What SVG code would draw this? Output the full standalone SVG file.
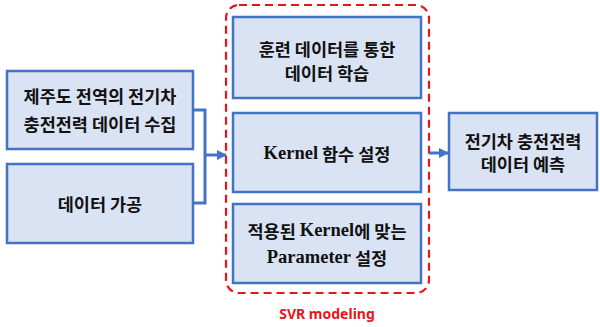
<svg xmlns="http://www.w3.org/2000/svg" width="600" height="327" viewBox="0 0 600 327">
  <style>
    .box { fill: #dae3f3; stroke: #4472c4; stroke-width: 2.5; }
    .lbl { font-family: "Noto Sans CJK KR", "Noto Sans", sans-serif; font-weight: bold; font-size: 17.5px; fill: #111; text-anchor: middle; dominant-baseline: central; }
    .lat { font-family: "Liberation Serif", "Noto Sans CJK KR", serif; font-size: 18.5px; }
    .wire { fill: none; stroke: #4472c4; stroke-width: 3; }
    .group { fill: none; stroke: #e8141c; stroke-width: 2.2; stroke-dasharray: 8 5; }
    .cap { font-family: "Noto Sans", "Liberation Sans", sans-serif; font-weight: bold; font-size: 14px; fill: #e8141c; text-anchor: middle; dominant-baseline: central; }
  </style>
  <defs>
    <marker id="arrow" viewBox="0 0 10 10" refX="9" refY="5" markerWidth="3.5" markerHeight="3.5" orient="auto" markerUnits="strokeWidth">
      <path d="M0,0 L10,5 L0,10 z" fill="#4472c4"/>
    </marker>
  </defs>

  <rect width="600" height="327" fill="#ffffff"/>

  <!-- SVR modeling boundary -->
  <g id="svr-group">
    <rect class="group" x="226" y="5" width="203" height="288" rx="13"/>
    <text class="cap" x="327" y="313">SVR modeling</text>
  </g>

  <g id="collect">
    <rect class="box" x="7" y="71" width="186" height="78"/>
    <text class="lbl" x="100" y="95">제주도 전역의 전기차</text>
    <text class="lbl" x="100" y="123">충전전력 데이터 수집</text>
  </g>

  <g id="process">
    <rect class="box" x="7" y="164" width="186" height="79"/>
    <text class="lbl" x="100" y="203">데이터 가공</text>
  </g>

  <g id="train">
    <rect class="box" x="233" y="17" width="188" height="81"/>
    <text class="lbl" x="327" y="48">훈련 데이터를 통한</text>
    <text class="lbl" x="327" y="72">데이터 학습</text>
  </g>

  <g id="kernel">
    <rect class="box" x="233" y="113" width="188" height="79"/>
    <text class="lbl" x="327" y="153"><tspan class="lat">Kernel</tspan> 함수 설정</text>
  </g>

  <g id="params">
    <rect class="box" x="233" y="204" width="188" height="79"/>
    <text class="lbl" x="327" y="230">적용된 <tspan class="lat">Kernel</tspan>에 맞는</text>
    <text class="lbl" x="327" y="257"><tspan class="lat">Parameter</tspan> 설정</text>
  </g>

  <g id="predict">
    <rect class="box" x="449" y="113" width="148" height="77"/>
    <text class="lbl" x="523" y="140">전기차 충전전력</text>
    <text class="lbl" x="523" y="163">데이터 예측</text>
  </g>

  <g id="connectors">
    <polyline class="wire" points="193,110 205,110 205,203 193,203"/>
    <line class="wire" x1="205" y1="155" x2="226" y2="155" marker-end="url(#arrow)"/>
    <line class="wire" x1="429" y1="153" x2="448" y2="153" marker-end="url(#arrow)"/>
  </g>
</svg>
